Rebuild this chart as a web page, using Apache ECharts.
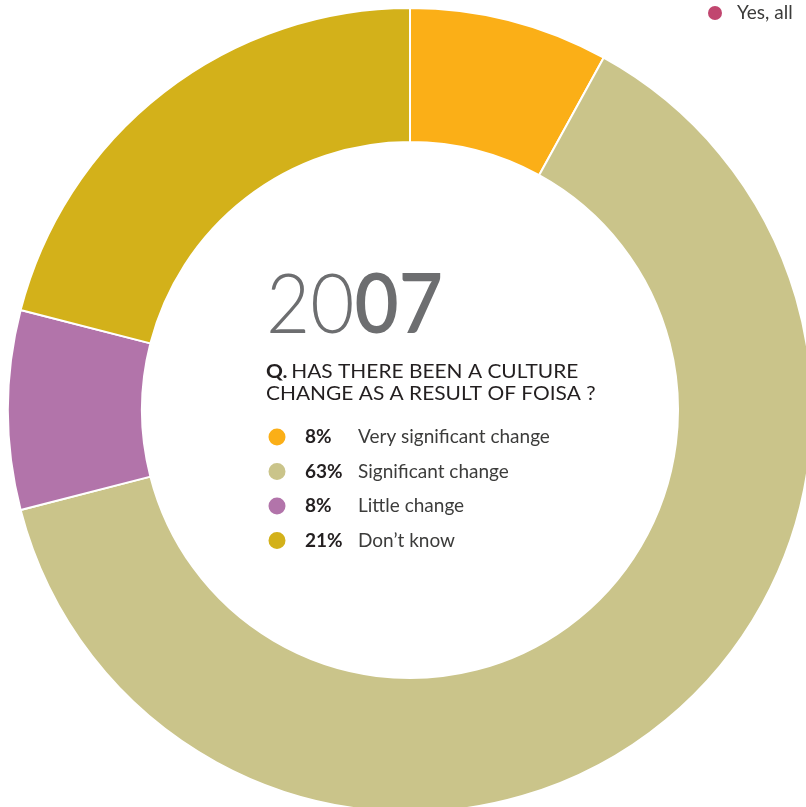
<!DOCTYPE html>
<html>
<head>
<meta charset="utf-8">
<style>
  html, body { margin: 0; padding: 0; background: #ffffff; }
  #chart { width: 806px; height: 807px; }
</style>
<script src="https://cdn.jsdelivr.net/npm/echarts@6/dist/echarts.min.js"></script>
</head>
<body>
<div id="chart"></div>
<script>
// Survey answers, 2007
const categories = ['Very significant change', 'Significant change', 'Little change', "Don\u2019t know"];
const shares = [8, 63, 8, 21];
const sliceColors = ['#fbaf17', '#cac48a', '#b274aa', '#d3b11a'];

const yearLight = '20';
const yearBold = '07';
const questionLead = 'Q.';
const questionLines = ['HAS THERE BEEN A CULTURE', 'CHANGE AS A RESULT OF FOISA ?'];
const otherKeyLabel = 'Yes, all';
const otherKeyColor = '#c1466f';

const FONT = 'Lato, "Open Sans", sans-serif';

const chart = echarts.init(document.getElementById('chart'), null, { renderer: 'canvas' });

const pieData = categories.map((name, i) => ({
  name: name,
  value: shares[i],
  itemStyle: { color: sliceColors[i] }
}));

chart.setOption({
  backgroundColor: '#ffffff',
  animation: false,
  legend: {
    orient: 'vertical',
    left: 266.5,
    top: 426.5,
    padding: 0,
    icon: 'circle',
    itemWidth: 19,
    itemHeight: 19,
    itemGap: 13.5,
    selectedMode: false,
    data: categories,
    formatter: function (name) {
      const i = categories.indexOf(name);
      return '{pct|' + shares[i] + '%}{lbl|' + name + '}';
    },
    textStyle: {
      fontFamily: FONT,
      lineHeight: 19,
      rich: {
        pct: { fontFamily: FONT, fontSize: 19, fontWeight: 'bold', color: '#231f20', width: 53, padding: [0, 0, 0, 13.5] },
        lbl: { fontFamily: FONT, fontSize: 19, color: '#3c3c3b' }
      }
    }
  },
  graphic: [
    {
      type: 'text',
      left: 266,
      top: 266,
      scaleX: 0.93,
      style: {
        text: '{a|' + yearLight + '}{b|' + yearBold + '}',
        rich: {
          a: { fontFamily: FONT, fontSize: 82, fontWeight: 300, fill: '#6d6e70' },
          b: { fontFamily: FONT, fontSize: 82, fontWeight: 600, fill: '#6d6e70' }
        }
      }
    },
    {
      type: 'text',
      left: 266,
      top: 361,
      scaleX: 1.13,
      style: {
        text: '{q|' + questionLead + '} {t|' + questionLines[0] + '}\n{t|' + questionLines[1] + '}',
        lineHeight: 22,
        rich: {
          q: { fontFamily: FONT, fontSize: 18.5, fontWeight: 'bold', fill: '#231f20', lineHeight: 22 },
          t: { fontFamily: FONT, fontSize: 18.5, fill: '#231f20', lineHeight: 22 }
        }
      }
    },
    {
      type: 'circle',
      shape: { cx: 715, cy: 13, r: 7 },
      style: { fill: otherKeyColor }
    },
    {
      type: 'text',
      x: 737,
      y: 13,
      style: {
        text: otherKeyLabel,
        fontFamily: FONT,
        fontSize: 19,
        fill: '#3c3c3b',
        verticalAlign: 'middle'
      }
    }
  ],
  series: [
    {
      type: 'pie',
      center: [410, 410],
      radius: [268, 402],
      startAngle: 90,
      clockwise: true,
      silent: true,
      label: { show: false },
      labelLine: { show: false },
      itemStyle: { borderColor: '#ffffff', borderWidth: 2 },
      data: pieData
    }
  ]
});
</script>
</body>
</html>
